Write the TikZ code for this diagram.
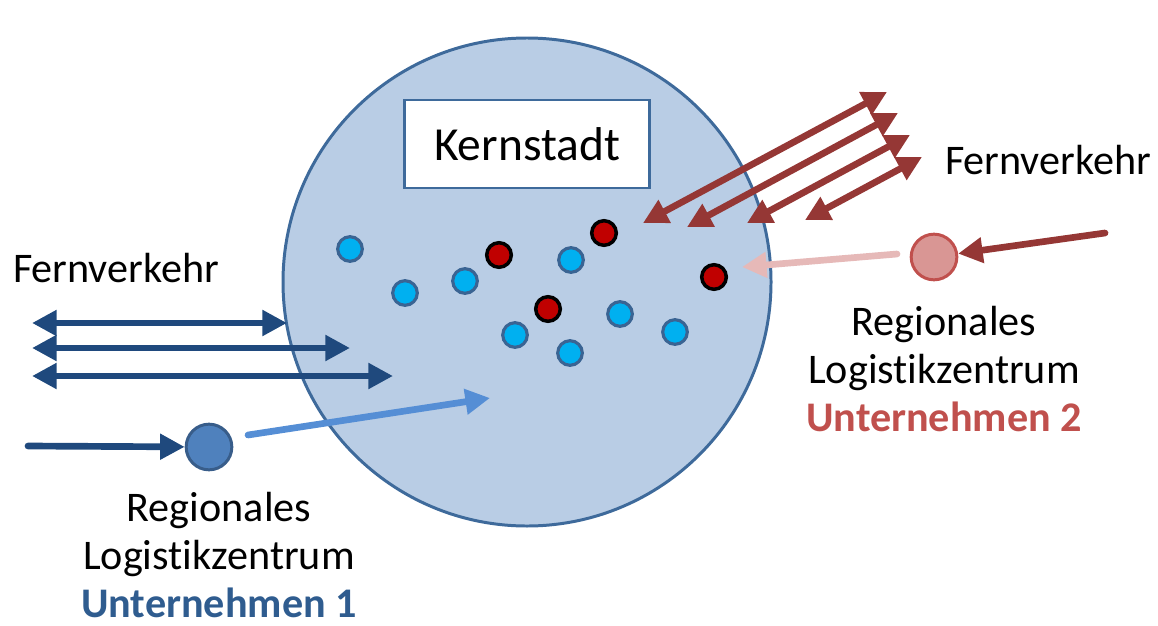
\documentclass[tikz,border=0pt]{standalone}
\usepackage{fontspec}
\setmainfont{Carlito}[Ligatures=NoCommon]
\usepackage{tikz}
\usetikzlibrary{positioning,arrows.meta,calc}

\definecolor{cityfill}{HTML}{B9CDE5}
\definecolor{cityline}{HTML}{3E6A9B}
\definecolor{darkblue}{HTML}{1F497D}
\definecolor{darkred}{HTML}{953735}
\definecolor{lightblue}{HTML}{558ED5}
\definecolor{pinkred}{HTML}{E6B9B8}
\definecolor{cyandot}{HTML}{00B0F0}
\definecolor{dotline}{HTML}{3A6493}
\definecolor{reddot}{HTML}{C00000}
\definecolor{firmone}{HTML}{4F81BD}
\definecolor{firmoneline}{HTML}{385D8A}
\definecolor{firmtwo}{HTML}{D99694}
\definecolor{firmtwoline}{HTML}{C0504D}
\definecolor{firmonetext}{HTML}{2F5C8F}

\begin{document}
\begin{tikzpicture}[x=0.02cm, y=-0.02cm,
  txt/.style={font=\fontsize{24}{27.3}\selectfont, align=center, inner sep=0pt},
  bluedot/.style={circle, draw=dotline, fill=cyandot, line width=1.8pt, minimum size=14pt, inner sep=0pt},
  reddotn/.style={circle, draw=black, fill=reddot, line width=2pt, minimum size=14pt, inner sep=0pt},
  centre/.style={circle, line width=1.7pt, minimum size=26pt, inner sep=0pt},
  flow/.style={line width=3.8pt, -{Triangle[length=14pt,width=14pt]}},
  twoway/.style={line width=3.8pt, {Triangle[length=14pt,width=14pt]}-{Triangle[length=14pt,width=14pt]}}]
\useasboundingbox (0,0) rectangle (1158,625);

% Kernstadt
\node[circle, draw=cityline, fill=cityfill, line width=1.7pt, minimum size=488*0.02cm, inner sep=0pt] (city) at (527,282) {};
\node[draw=cityline, fill=white, line width=1.7pt, minimum width=245*0.02cm, minimum height=88*0.02cm,
  font=\fontsize{27}{30}\selectfont] (kern) at (527,144) {Kernstadt};

% Betriebe in der Stadt
\node[bluedot] (b1) at (350,249) {};
\node[bluedot] (b2) at (405,293) {};
\node[bluedot] (b3) at (465,281) {};
\node[bluedot] (b4) at (571,260) {};
\node[bluedot] (b5) at (515,335) {};
\node[bluedot] (b6) at (570,353) {};
\node[bluedot] (b7) at (620,314) {};
\node[bluedot] (b8) at (675,332) {};
\node[reddotn] (r1) at (499,255) {};
\node[reddotn] (r2) at (604,233) {};
\node[reddotn] (r3) at (548,309) {};
\node[reddotn] (r4) at (714,277) {};

% Unternehmen 1
\node[centre, draw=firmoneline, fill=firmone] (u1) at (209,447) {};
\node[txt] (u1txt) at (219,555) {Regionales\\Logistikzentrum\\\textbf{\textcolor{firmonetext}{Unternehmen 1}}};
\node[txt] (fv1) at (116,268) {Fernverkehr};
\coordinate (l1) at (32,323);  \coordinate (e1) at (287,323);
\coordinate (l2) at (32,348);  \coordinate (e2) at (350,348);
\coordinate (l3) at (32,376);  \coordinate (e3) at (393,376);
\coordinate (in1) at (28,446);
\coordinate (s1) at (248,435); \coordinate (t1) at (490,398);
\draw[twoway, darkblue] (l1) -- (e1);
\draw[twoway, darkblue] (l2) -- (e2);
\draw[twoway, darkblue] (l3) -- (e3);
\draw[flow, darkblue, line cap=round] (in1) -- (u1);
\draw[flow, lightblue, line cap=round] (s1) -- (t1);

% Unternehmen 2
\node[centre, draw=firmtwoline, fill=firmtwo] (u2) at (934,257) {};
\node[txt] (u2txt) at (944,369) {Regionales\\Logistikzentrum\\\textbf{\textcolor{firmtwoline}{Unternehmen 2}}};
\node[txt] (fv2) at (1048,160) {Fernverkehr};
\coordinate (a1) at (643,223); \coordinate (f1) at (887,92);
\coordinate (a2) at (687,227); \coordinate (f2) at (898,113);
\coordinate (a3) at (747,223); \coordinate (f3) at (910,135);
\coordinate (a4) at (805,220); \coordinate (f4) at (922,157);
\coordinate (in2) at (1105,233);
\coordinate (s2) at (897,254); \coordinate (t2) at (742,267);
\draw[twoway, darkred] (a1) -- (f1);
\draw[twoway, darkred] (a2) -- (f2);
\draw[twoway, darkred] (a3) -- (f3);
\draw[twoway, darkred] (a4) -- (f4);
\draw[flow, darkred, line cap=round] (in2) -- (u2);
\draw[flow, pinkred, line cap=round] (s2) -- (t2);
\end{tikzpicture}
\end{document}
